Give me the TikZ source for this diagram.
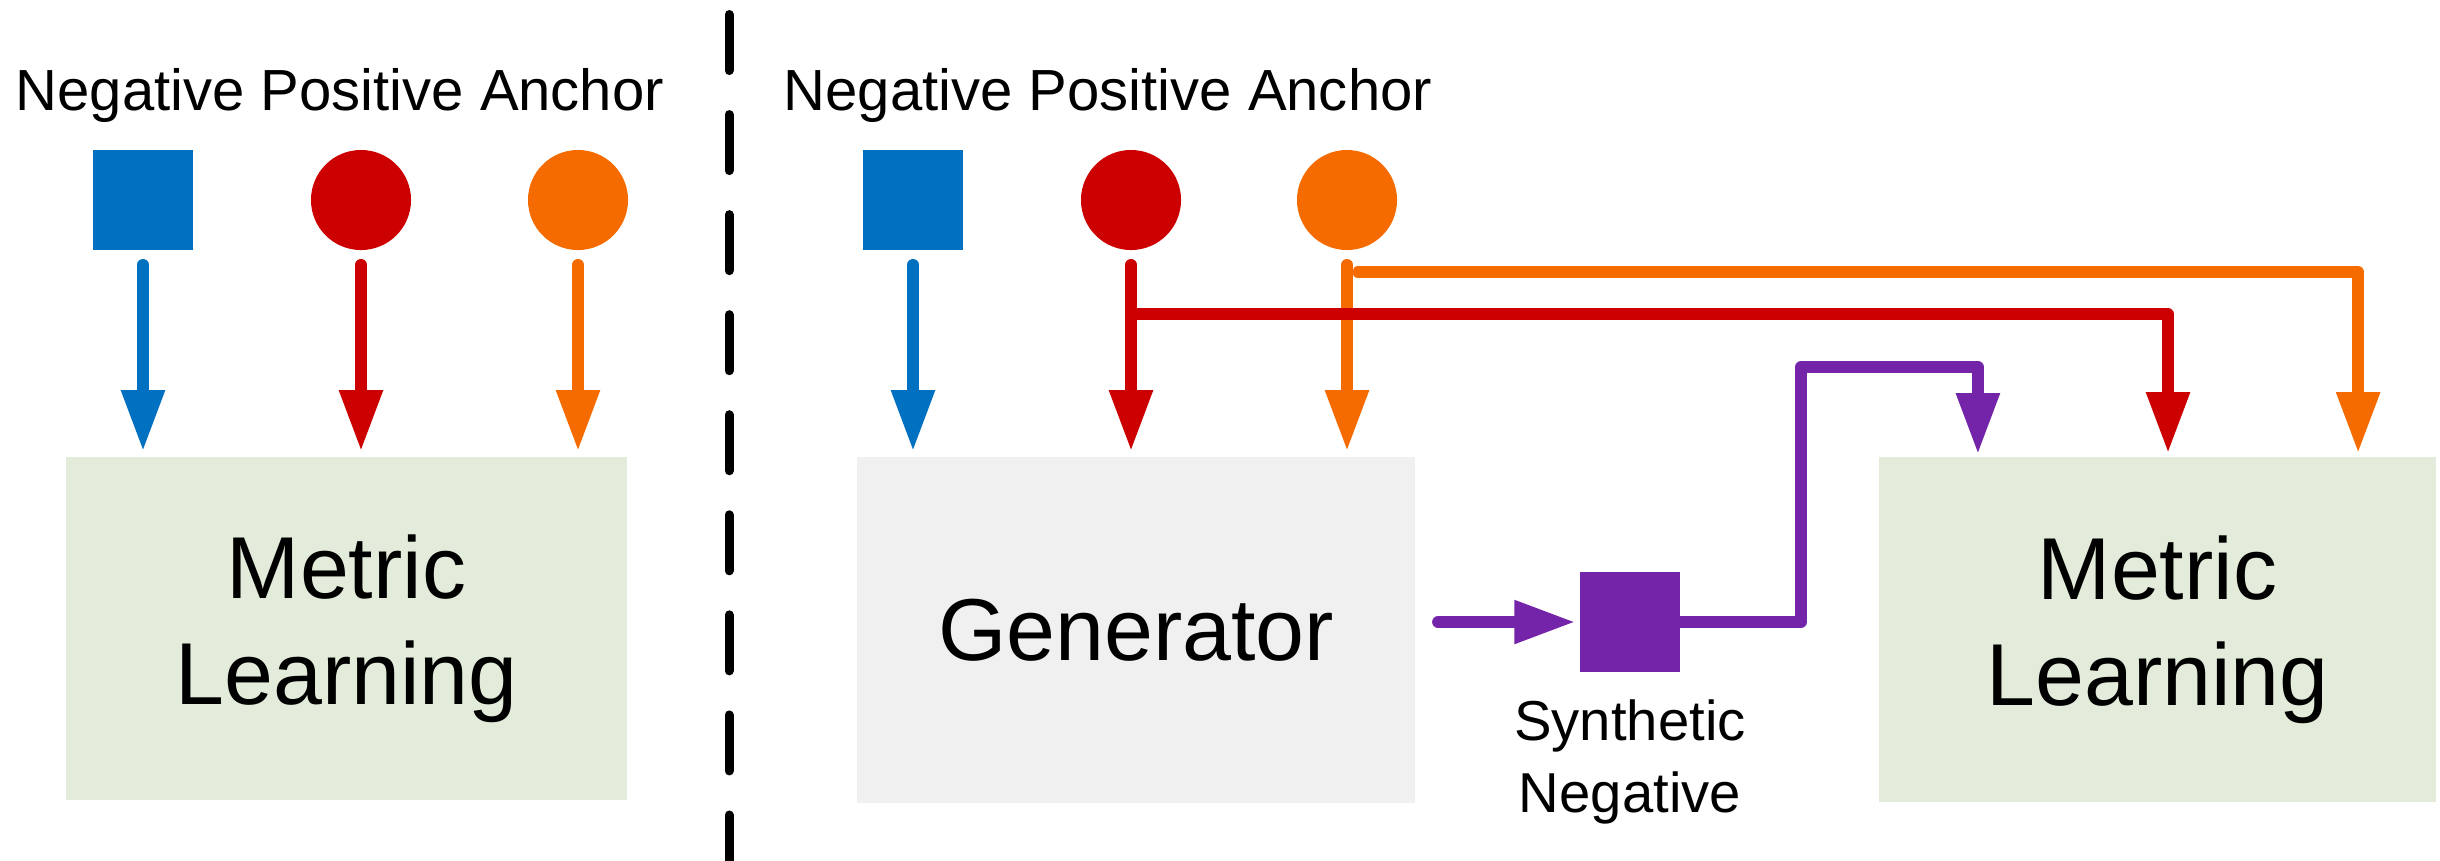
\documentclass[tikz,border=0pt]{standalone}
\usepackage{fontspec}
\setmainfont{Liberation Sans}
\usetikzlibrary{arrows.meta,positioning}

\definecolor{cBlue}{HTML}{0070C0}
\definecolor{cRed}{HTML}{CC0000}
\definecolor{cOrange}{HTML}{F56B00}
\definecolor{cPurple}{HTML}{7424A8}
\definecolor{cGreen}{HTML}{E3ECDA}
\definecolor{cGrey}{HTML}{F0F0F0}

\tikzset{
  sample/.style={inner sep=0pt, minimum size=1cm, draw=none},
  sqsample/.style={sample, rectangle},
  rdsample/.style={sample, circle},
  block/.style={rectangle, inner sep=0pt, align=center,
    font={\fontsize{25}{30.2}\selectfont}},
  heading/.style={inner sep=0pt, anchor=base west,
    font={\fontsize{16.5}{20}\selectfont}},
  small/.style={inner sep=0pt, align=center,
    font={\fontsize{16}{20.5}\selectfont}},
  flow/.style={line width=0.115cm, line cap=round, line join=round,
    -{Triangle[width=0.41cm,length=0.61cm]}},
  divider/.style={line width=0.09cm, line cap=round,
    dash pattern=on 0.56cm off 0.44cm}
}

\begin{document}
\begin{tikzpicture}[x=0.01cm, y=-0.01cm]
\useasboundingbox (0,0) rectangle (2440,860);

% ---------- left: plain metric learning ----------
\node[heading] (headL) at (15,110) {Negative Positive Anchor};
\node[sqsample, fill=cBlue] (negL) at (143,200) {};
\node[rdsample, fill=cRed] (posL) at (361,200) {};
\node[rdsample, fill=cOrange] (ancL) at (578,200) {};

\node[block, fill=cGreen, minimum width=5.61cm, minimum height=3.43cm]
  (metricL) at (346.5,628.5) {Metric\\Learning};

\draw[flow, cBlue, shorten <=0.14cm, shorten >=0.05cm] (negL) -- (negL |- metricL.north);
\draw[flow, cRed, shorten <=0.14cm, shorten >=0.05cm] (posL) -- (posL |- metricL.north);
\draw[flow, cOrange, shorten <=0.14cm, shorten >=0.05cm] (ancL) -- (ancL |- metricL.north);

% ---------- separator ----------
\coordinate (sepTop) at (729,14.5);
\coordinate (sepBot) at (729,870);
\draw[divider] (sepTop) -- (sepBot);

% ---------- right: generator + metric learning ----------
\node[heading] (headR) at (783,110) {Negative Positive Anchor};
\node[sqsample, fill=cBlue] (negR) at (913,200) {};
\node[rdsample, fill=cRed] (posR) at (1131,200) {};
\node[rdsample, fill=cOrange] (ancR) at (1347,200) {};

\node[block, fill=cGrey, minimum width=5.58cm, minimum height=3.46cm]
  (gen) at (1136,630) {Generator};
\node[block, fill=cGreen, minimum width=5.57cm, minimum height=3.45cm]
  (metricR) at (2157.5,629.5) {Metric\\Learning};

\node[sqsample, fill=cPurple] (synth) at (1630,622) {};
\node[small, below=0.26cm of synth] (synthlbl) {Synthetic\\Negative};

% samples into the generator
\draw[flow, cBlue, shorten <=0.14cm, shorten >=0.05cm] (negR) -- (negR |- gen.north);
\draw[flow, cOrange, shorten <=0.14cm, shorten >=0.05cm] (ancR) -- (ancR |- gen.north);

% anchor bypass to metric learning
\draw[flow, cOrange, shorten >=0.03cm]
  ([xshift=0.11cm, yshift=-0.72cm]ancR.center) -| ([xshift=2.005cm]metricR.north);

% positive bypass to metric learning
\draw[flow, cRed, shorten <=0.14cm, shorten >=0.05cm] (posR) -- (posR |- gen.north);
\draw[flow, cRed, shorten >=0.03cm]
  ([yshift=-1.14cm]posR.center) -| ([xshift=0.105cm]metricR.north);

% generator output
\draw[flow, cPurple, shorten <=0.22cm, shorten >=0.04cm] (gen.east |- synth.west) -- (synth.west);
\coordinate (pBend) at (1801,367);
\draw[flow, cPurple, shorten >=0.02cm]
  (synth.east) -| (pBend) -| ([xshift=-1.795cm]metricR.north);
\end{tikzpicture}
\end{document}
